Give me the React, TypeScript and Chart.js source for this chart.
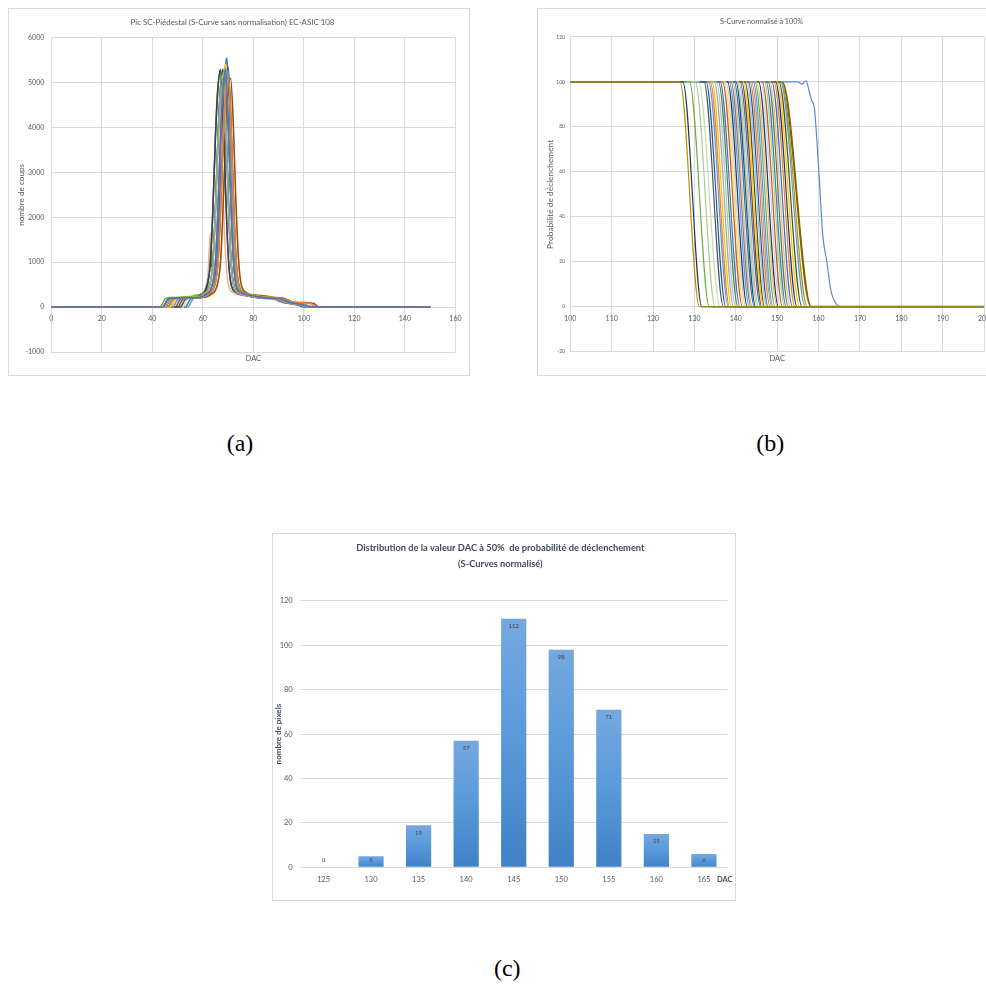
import React, { useEffect, useRef } from "react";
import { Chart, registerables } from "chart.js";

Chart.register(...registerables);

const FONT = "Lato, 'Open Sans', sans-serif";
const TEXT = "#595959";
const GRID = "#D9D9D9";

// ---------- Chart (a): raw S-curve peaks ----------
const peakTitle = "Pic SC-Piédestal (S-Curve sans normalisation) EC-ASIC 108";
const peakYTitle = "nombre de coups";
const peakXTitle = "DAC";
const peakColors = [
  "#4472C4", "#ED7D31", "#A5A5A5", "#FFC000", "#5B9BD5", "#70AD47",
  "#264478", "#9E480E", "#636363", "#997300", "#255E91", "#43682B",
  "#F4B183", "#FFD966", "#3B78C8", "#8CC168", "#1F3864", "#6F9FD3",
];
const peakCurves: [number, number][][] = [
  [[0,0],[44,0],[46,170],[47,200],[57,210],[60,240],[61,280],[63,380],[64,560],[65,1000],[66,2200],[67,3800],[68,4900],[69,5300],[70,4300],[71,2600],[72,1200],[73,560],[75,330],[79,260],[84,210],[90,190],[94,110],[99,60],[103,0],[150,0]],
  [[0,0],[46,0],[48,160],[49,200],[58,210],[61,250],[62,290],[64,390],[65,560],[66,1000],[67,2100],[68,3700],[69,4800],[70,5150],[71,4200],[72,2500],[73,1150],[74,540],[76,320],[80,270],[85,220],[91,200],[95,120],[101,90],[103,70],[105,0],[150,0]],
  [[0,0],[45,0],[47,170],[48,190],[56,200],[59,230],[60,270],[62,370],[63,540],[64,950],[65,2100],[66,3600],[67,4600],[68,5000],[69,4100],[70,2400],[71,1100],[72,520],[74,310],[78,250],[83,200],[89,180],[93,100],[98,50],[102,0],[150,0]],
  [[0,0],[47,0],[49,180],[50,200],[57,220],[60,250],[61,290],[63,400],[64,580],[65,1050],[66,2300],[67,3900],[68,5000],[69,5400],[70,4400],[71,2700],[72,1250],[73,580],[75,340],[79,270],[84,220],[90,200],[94,120],[99,60],[104,0],[150,0]],
  [[0,0],[48,0],[50,170],[51,200],[58,210],[61,240],[62,280],[64,380],[65,560],[66,1000],[67,2200],[68,3800],[69,4900],[70,5250],[71,4300],[72,2600],[73,1200],[74,560],[76,330],[80,260],[85,210],[91,190],[95,110],[100,60],[104,0],[150,0]],
  [[0,0],[43,0],[45,180],[46,210],[55,220],[58,260],[59,290],[62,380],[63,560],[64,1000],[65,2200],[66,3800],[67,4900],[68,5200],[69,4300],[70,2600],[71,1200],[72,560],[74,330],[78,260],[83,240],[89,200],[93,110],[98,60],[102,0],[150,0]],
  [[0,0],[45,0],[47,170],[48,200],[55,210],[58,240],[59,280],[61,370],[62,560],[63,1000],[64,2200],[65,3800],[66,4900],[67,5300],[68,4300],[69,2600],[70,1200],[71,560],[73,330],[77,260],[82,210],[88,190],[92,110],[97,60],[101,0],[150,0]],
  [[0,0],[50,0],[52,170],[53,200],[59,210],[62,240],[63,280],[65,380],[66,560],[67,1000],[68,2200],[69,3800],[70,4800],[71,5100],[72,4200],[73,2500],[74,1200],[75,560],[77,330],[81,260],[86,220],[92,200],[96,110],[101,100],[104,80],[106,0],[150,0]],
  [[0,0],[49,0],[51,170],[52,200],[57,210],[60,240],[61,280],[63,380],[64,560],[65,1000],[66,2100],[67,3600],[68,4500],[69,4900],[70,4000],[71,2400],[72,1100],[73,520],[75,310],[79,250],[84,200],[90,180],[94,100],[99,50],[103,0],[150,0]],
  [[0,0],[44,0],[46,170],[47,200],[55,210],[58,240],[59,280],[61,380],[62,560],[63,1000],[64,2200],[65,3800],[66,4900],[67,5250],[68,4300],[69,2600],[70,1200],[71,560],[73,330],[77,260],[82,210],[88,190],[92,110],[97,60],[101,0],[150,0]],
  [[0,0],[51,0],[53,170],[54,200],[58,210],[61,240],[62,280],[64,380],[65,560],[66,1000],[67,2200],[68,3800],[69,4950],[70,5350],[71,4400],[72,2700],[73,1250],[74,570],[76,330],[80,260],[85,210],[91,190],[95,110],[100,60],[104,0],[150,0]],
  [[0,0],[46,0],[48,170],[49,200],[56,220],[59,250],[60,290],[62,380],[63,560],[64,1000],[65,2200],[66,3700],[67,4800],[68,5100],[69,4200],[70,2500],[71,1150],[72,540],[74,320],[78,270],[83,260],[89,200],[93,110],[98,60],[102,0],[150,0]],
  [[0,0],[44,0],[46,170],[47,200],[55,210],[58,240],[60,300],[61,420],[62,700],[63,1650],[63.5,1400],[64,2300],[65,3900],[66,5000],[67,4200],[68,2500],[69,1150],[70,540],[72,320],[76,260],[81,210],[87,190],[91,110],[96,60],[100,0],[150,0]],
  [[0,0],[52,0],[54,170],[55,200],[60,210],[63,250],[64,290],[65,380],[66,560],[67,1000],[68,2100],[69,3500],[70,4400],[71,4800],[72,4000],[73,2400],[74,1100],[75,520],[77,310],[81,250],[86,200],[92,180],[96,100],[101,50],[105,0],[150,0]],
  [[0,0],[53,0],[55,170],[56,200],[59,210],[61,250],[62,290],[64,400],[65,700],[66,1500],[67,3000],[68,4600],[69,5400],[69.5,5550],[70,5100],[71,3200],[72,1500],[73,650],[74,380],[76,300],[80,250],[85,200],[91,190],[95,110],[100,60],[104,0],[150,0]],
  [[0,0],[47,0],[49,170],[50,200],[56,250],[57,270],[60,280],[62,400],[63,1450],[63.5,1200],[64,800],[65,1000],[66,1500],[67,2400],[68,3800],[69,4700],[70,5000],[71,4100],[72,2400],[73,1100],[74,520],[76,310],[80,260],[85,220],[91,190],[95,110],[100,60],[104,0],[150,0]],
  [[0,0],[45,0],[47,170],[48,200],[56,210],[59,240],[61,320],[62,500],[63,1250],[63.5,900],[64,1100],[65,2200],[66,3800],[67,4900],[68,5300],[69,4300],[70,2600],[71,1200],[72,560],[74,330],[78,260],[83,210],[89,190],[93,110],[98,60],[102,0],[150,0]],
  [[0,0],[54,0],[56,170],[57,200],[60,230],[61,280],[63,380],[64,560],[65,1000],[66,2200],[67,3800],[68,4900],[69,5200],[70,4300],[71,2600],[72,1200],[73,560],[75,330],[79,260],[84,210],[90,190],[94,110],[99,60],[103,0],[150,0]],
];

// ---------- Chart (b): normalised S-curves ----------
const sTitle = "S-Curve normalisé à 100%";
const sYTitle = "Probabilité de déclenchement";
const sXTitle = "DAC";
// [DAC where the curve leaves 100 %, DAC where it reaches 0 %]
const sCurveBounds: [number, number][] = [
  [126.5,131.2],[127.2,131.8],[128.8,133.6],[130.2,135.0],[131.0,136.2],[132.3,137.0],
  [132.8,137.6],[133.4,138.2],[133.8,138.5],[134.2,139.0],[134.8,139.5],[135.3,140.0],
  [135.8,140.5],[136.2,141.0],[136.8,141.6],[137.2,142.0],[137.6,142.4],[138.0,142.8],
  [138.4,143.3],[138.8,143.7],[139.2,144.0],[139.6,144.5],[140.0,144.8],[140.3,145.2],
  [140.7,145.5],[141.0,146.0],[141.4,146.3],[141.8,146.7],[142.2,147.0],[142.6,147.5],
  [143.0,147.8],[143.4,148.3],[143.8,148.7],[144.2,149.0],[144.6,149.5],[145.0,150.0],
  [145.5,150.3],[146.0,150.8],[146.4,151.3],[146.9,151.8],[147.3,152.2],[147.8,152.7],
  [148.2,153.2],[148.7,153.7],[149.2,154.3],[149.6,154.8],[150.0,155.4],[150.4,156.0],
  [150.8,156.8],[151.0,157.3],
];
const sCurveColors = [
  "#BF9000","#1F3864","#70AD47","#A9D18E","#C5E0B4","#44546A",
  "#2F5597","#5B9BD5","#ED7D31","#FFC000","#A5A5A5","#9DC3E6",
  "#548235","#4472C4","#C55A11","#FFD966","#D0CECE","#203864",
  "#5B9BD5","#7F7F7F","#F4B183","#2E75B6","#1F4E79","#A9D18E",
  "#BFBFBF","#4472C4","#843C0C","#FFC000","#385723","#9DC3E6",
  "#2F5597","#ED7D31","#A5A5A5","#5B9BD5","#70AD47","#F4B183",
  "#1F3864","#BDD7EE","#C55A11","#A9D18E","#4472C4","#548235",
  "#F4B183","#2E75B6","#ED7D31","#203864","#FFC000","#375623",
  "#5B9BD5","#BF9000",
];
const sOutlierCurve: [number, number][] = [
  [100,100],[155,100],[156,99],[157,100.5],[157.7,96],[158.3,92],[159,88],[160,62],
  [161,32],[162,20],[163,7],[164,2],[165.5,0],[200,0],
];
const sOutlierColor = "#5B87D0";
const sLastCurve: [number, number] = [151.2, 158.2];
const sLastColor = "#806000";

// ---------- Chart (c): histogram ----------
const histTitle = [
  "Distribution de la valeur DAC à 50%  de probabilité de déclenchement",
  "(S-Curves normalisé)",
];
const histYTitle = "nombre de pixels";
const histXTitle = "DAC";
const histCategories = ["125", "130", "135", "140", "145", "150", "155", "160", "165"];
const histCounts = [0, 5, 19, 57, 112, 98, 71, 15, 6];

// ---------- plugins ----------
const axisLabelPlugin = {
  id: "axisLabel",
  afterDraw(chart: any, _args: any, opts: any) {
    if (!opts || !opts.text) return;
    const { ctx, chartArea } = chart;
    ctx.save();
    ctx.font = opts.font;
    ctx.fillStyle = opts.color;
    ctx.textAlign = "center";
    ctx.textBaseline = "middle";
    const x = opts.atRight ? chartArea.right + opts.dx : (chartArea.left + chartArea.right) / 2;
    ctx.fillText(opts.text, x, chartArea.bottom + opts.dy);
    ctx.restore();
  },
};

const barValuePlugin = {
  id: "barValues",
  afterDatasetsDraw(chart: any) {
    const meta = chart.getDatasetMeta(0);
    const ctx = chart.ctx;
    ctx.save();
    ctx.font = `6px ${FONT}`;
    ctx.fillStyle = "#404040";
    ctx.textAlign = "center";
    ctx.textBaseline = "middle";
    meta.data.forEach((el: any, i: number) => {
      const y = Math.min(el.y + 7.5, el.base - 7);
      ctx.fillText(String(histCounts[i]), el.x, y);
    });
    ctx.restore();
  },
};

const tickFont = (size: number, weight: any = "normal") => ({ family: FONT, size, weight });
const plain = (v: any) => String(v);

function makePeakConfig(): any {
  return {
    type: "line",
    data: {
      datasets: peakCurves.map((pts, i) => ({
        data: pts.map(([x, y]) => ({ x, y })),
        borderColor: peakColors[i % peakColors.length],
        borderWidth: 1.5,
        pointRadius: 0,
        fill: false,
        cubicInterpolationMode: "monotone",
      })),
    },
    options: {
      animation: false,
      responsive: false,
      events: [],
      layout: { padding: { left: 0, right: 13, top: 0, bottom: 23 } },
      plugins: {
        legend: { display: false },
        tooltip: { enabled: false },
        title: {
          display: true,
          text: peakTitle,
          color: TEXT,
          font: tickFont(7.9),
          padding: { top: 8.3, bottom: 11 },
        },
        axisLabel: { text: peakXTitle, font: `7.5px ${FONT}`, color: TEXT, dy: 7 },
      },
      scales: {
        x: {
          type: "linear",
          min: 0,
          max: 160,
          position: { y: 0 },
          ticks: { stepSize: 20, color: TEXT, font: tickFont(7), padding: 7.5, callback: plain },
          grid: { color: GRID, drawTicks: false },
          border: { color: GRID },
        },
        y: {
          min: -1000,
          max: 6000,
          ticks: { stepSize: 1000, color: TEXT, font: tickFont(7), padding: 7, callback: plain },
          grid: { color: GRID, drawTicks: false },
          border: { color: GRID },
          title: {
            display: true,
            text: peakYTitle,
            color: TEXT,
            font: tickFont(8.2),
            padding: { top: 7, bottom: 0 },
          },
          afterFit: (s: any) => {
            s.width = 42.3;
          },
        },
      },
    },
    plugins: [axisLabelPlugin],
  };
}

function makeSCurveConfig(): any {
  const curveData = (a: number, b: number) => [
    { x: 100, y: 100 },
    { x: a, y: 100 },
    { x: b, y: 0 },
    { x: 200, y: 0 },
  ];
  const datasets: any[] = sCurveBounds.map(([a, b], i) => ({
    data: curveData(a, b),
    borderColor: sCurveColors[i % sCurveColors.length],
    borderWidth: 1.2,
    pointRadius: 0,
    fill: false,
    cubicInterpolationMode: "monotone",
  }));
  datasets.push({
    data: sOutlierCurve.map(([x, y]) => ({ x, y })),
    borderColor: sOutlierColor,
    borderWidth: 1.2,
    pointRadius: 0,
    fill: false,
    cubicInterpolationMode: "monotone",
  });
  datasets.push({
    data: curveData(sLastCurve[0], sLastCurve[1]),
    borderColor: sLastColor,
    borderWidth: 2,
    pointRadius: 0,
    fill: false,
    cubicInterpolationMode: "monotone",
  });
  return {
    type: "line",
    data: { datasets },
    options: {
      animation: false,
      responsive: false,
      events: [],
      layout: { padding: { left: 0, right: 13, top: 0, bottom: 23.3 } },
      plugins: {
        legend: { display: false },
        tooltip: { enabled: false },
        title: {
          display: true,
          text: sTitle,
          color: TEXT,
          font: tickFont(7.2),
          padding: { top: 8.7, bottom: 10.6 },
        },
        axisLabel: { text: sXTitle, font: `7.5px ${FONT}`, color: TEXT, dy: 7.3 },
      },
      scales: {
        x: {
          type: "linear",
          min: 100,
          max: 200,
          position: { y: 0 },
          ticks: { stepSize: 10, color: TEXT, font: tickFont(7), padding: 7.8, callback: plain },
          grid: { color: GRID, drawTicks: false },
          border: { color: GRID },
        },
        y: {
          min: -20,
          max: 120,
          ticks: { stepSize: 20, color: TEXT, font: tickFont(5), padding: 5.3, callback: plain },
          grid: { color: GRID, drawTicks: false },
          border: { color: GRID },
          title: {
            display: true,
            text: sYTitle,
            color: TEXT,
            font: tickFont(8.4),
            padding: { top: 7, bottom: 0 },
          },
          afterFit: (s: any) => {
            s.width = 32.3;
          },
        },
      },
    },
    plugins: [axisLabelPlugin],
  };
}

function makeHistConfig(): any {
  return {
    type: "bar",
    data: {
      labels: histCategories,
      datasets: [
        {
          data: histCounts,
          categoryPercentage: 1,
          barPercentage: 0.53,
          backgroundColor: (c: any) => {
            const fallback = "#5B9BD5";
            if (c.type !== "data") return fallback;
            const chart = c.chart;
            const ys = chart.scales && chart.scales.y;
            if (!ys || !chart.chartArea || !c.parsed) return fallback;
            const top = ys.getPixelForValue(c.parsed.y);
            const bottom = ys.getPixelForValue(0);
            if (!isFinite(top) || !isFinite(bottom) || bottom - top < 1) return fallback;
            const g = chart.ctx.createLinearGradient(0, top, 0, bottom);
            g.addColorStop(0, "#75A8DF");
            g.addColorStop(0.45, "#5B9BDB");
            g.addColorStop(1, "#4081C7");
            return g;
          },
          borderWidth: 0,
        },
      ],
    },
    options: {
      animation: false,
      responsive: false,
      events: [],
      layout: { padding: { left: 0, right: 7.3, top: 0, bottom: 0 } },
      plugins: {
        legend: { display: false },
        tooltip: { enabled: false },
        title: {
          display: true,
          text: histTitle,
          color: "#3F4B5B",
          font: { family: FONT, size: 9.3, weight: "bold", lineHeight: 1.69 },
          padding: { top: 6.1, bottom: 29.4 },
        },
        axisLabel: {
          text: histXTitle,
          font: `bold 7.5px ${FONT}`,
          color: "#3F4B5B",
          dy: 12.7,
          dx: -3,
          atRight: true,
        },
      },
      scales: {
        x: {
          type: "category",
          ticks: { color: TEXT, font: tickFont(7.5), padding: 7.9 },
          grid: { display: false, drawTicks: false },
          border: { display: false },
          afterFit: (s: any) => {
            s.height = 32.7;
          },
        },
        y: {
          min: 0,
          max: 120,
          ticks: { stepSize: 20, color: TEXT, font: tickFont(7.5), padding: 7, callback: plain },
          grid: { color: GRID, drawTicks: false },
          border: { display: false },
          title: {
            display: true,
            text: histYTitle,
            color: "#3F4B5B",
            font: tickFont(8, "bold"),
            padding: { top: 1, bottom: 0 },
          },
          afterFit: (s: any) => {
            s.width = 26.7;
          },
        },
      },
    },
    plugins: [axisLabelPlugin, barValuePlugin],
  };
}

function ChartBox(props: { left: number; top: number; width: number; height: number; make: () => any }) {
  const { left, top, width, height, make } = props;
  const ref = useRef<HTMLCanvasElement>(null);
  useEffect(() => {
    if (!ref.current) return;
    const chart = new Chart(ref.current, make());
    return () => chart.destroy();
  }, []);
  return (
    <div
      style={{
        position: "absolute",
        left,
        top,
        width,
        height,
        border: `1px solid ${GRID}`,
        boxSizing: "border-box",
        background: "#fff",
      }}
    >
      <canvas
        ref={ref}
        width={width - 2}
        height={height - 2}
        style={{ display: "block", width: width - 2, height: height - 2 }}
      />
    </div>
  );
}

function Caption(props: { text: string; cx: number; cy: number }) {
  return (
    <div
      style={{
        position: "absolute",
        left: props.cx - 40,
        top: props.cy - 16,
        width: 80,
        textAlign: "center",
        fontFamily: "'Liberation Serif', serif",
        fontSize: 24,
        lineHeight: "28px",
        color: "#000",
      }}
    >
      {props.text}
    </div>
  );
}

export default function App() {
  return (
    <div
      style={{
        position: "fixed",
        left: 0,
        top: 0,
        width: 986,
        height: 985,
        overflow: "hidden",
        background: "#fff",
      }}
    >
      <ChartBox left={8} top={8} width={462} height={368} make={makePeakConfig} />
      <ChartBox left={537} top={8} width={462} height={368} make={makeSCurveConfig} />
      <ChartBox left={272} top={533} width={464} height={368} make={makeHistConfig} />
      <Caption text="(a)" cx={240} cy={445.3} />
      <Caption text="(b)" cx={770.3} cy={445.3} />
      <Caption text="(c)" cx={507.3} cy={970.3} />
    </div>
  );
}
